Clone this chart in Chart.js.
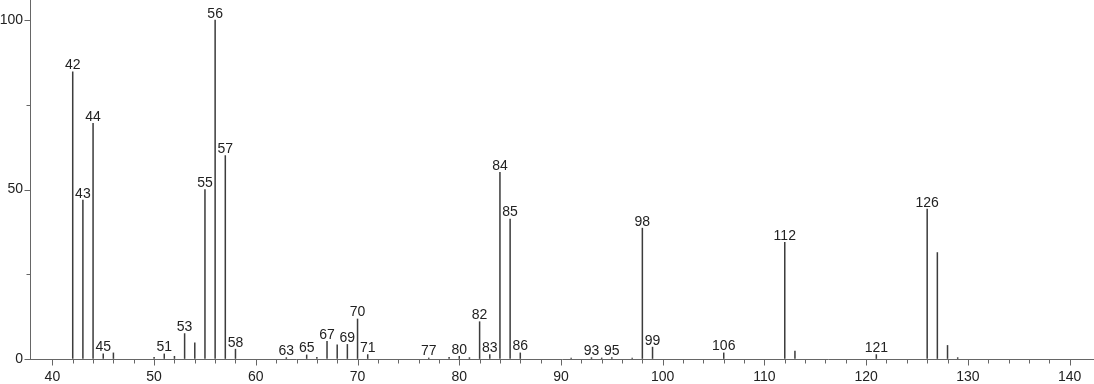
<!DOCTYPE html>
<html>
<head>
<meta charset="utf-8">
<script src="https://cdn.jsdelivr.net/npm/chart.js@4.4.1/dist/chart.umd.min.js"></script>
<style>
html,body{margin:0;padding:0;background:#fff;}
#wrap{width:1094px;height:384px;position:relative;}
</style>
</head>
<body>
<div id="wrap"><canvas id="c" width="1094" height="384"></canvas></div>
<script>
// m/z values
const mz = [42,43,44,45,46,50,51,52,53,54,55,56,57,58,63,65,66,67,68,69,70,71,77,79,80,81,82,83,84,85,86,91,93,94,95,97,98,99,106,112,113,121,126,127,128,129];
// relative intensities
const intensity = [84.7,46.9,69.5,1.5,1.8,0.5,1.5,0.8,7.5,4.8,50.0,100,60.0,2.9,0.4,1.2,0.5,5.2,4.2,4.3,11.8,1.3,0.3,0.5,0.8,0.4,11.0,1.3,55.1,41.3,1.8,0.3,0.4,0.3,0.4,0.3,38.6,3.5,1.8,34.4,2.3,1.3,44.2,31.4,4.0,0.4];
// peaks that carry a label
const labeledPeaks = [42,43,44,45,51,53,55,56,57,58,63,65,67,69,70,71,77,80,82,83,84,85,86,93,95,98,99,106,112,121,126];
// axis ticks
const xTickValues = [40,42,44,46,48,50,52,54,56,58,60,62,64,66,68,70,72,74,76,78,80,82,84,86,88,90,92,94,96,98,100,102,104,106,108,110,112,114,116,118,120,122,124,126,128,130,132,134,136,138,140];
const xTickLabels = [40,50,60,70,80,90,100,110,120,130,140];
const yTickValues = [0,25,50,75,100];
const yTickLabels = [0,50,100];

const X_MIN = 37.8, X_MAX = 142.4, Y_MIN = 0, Y_MAX = 105.9;
const AXIS_COLOR = '#666';
const FONT = '"Liberation Sans", Arial, sans-serif';

const points = mz.map((m, i) => ({x: m, y: intensity[i]}));

const tickPlugin = {
  id: 'ticksAndLabels',
  afterDatasetsDraw(chart) {
    const ctx = chart.ctx;
    const xs = chart.scales.x, ys = chart.scales.y;
    const area = chart.chartArea;
    ctx.save();
    // peak labels
    ctx.fillStyle = '#222';
    ctx.font = '14px ' + FONT;
    ctx.textAlign = 'center';
    ctx.textBaseline = 'alphabetic';
    labeledPeaks.forEach(m => {
      const i = mz.indexOf(m);
      if (i < 0) return;
      const px = xs.getPixelForValue(m);
      const py = ys.getPixelForValue(intensity[i]);
      ctx.fillText(String(m), px, py - 2.5);
    });
    // tick marks
    ctx.strokeStyle = AXIS_COLOR;
    ctx.lineWidth = 1;
    ctx.beginPath();
    const yb = Math.round(area.bottom) + 0.5;
    xTickValues.forEach(v => {
      const px = Math.round(xs.getPixelForValue(v)) + 0.5;
      const len = (v % 10 === 0) ? 6 : 4;
      ctx.moveTo(px, yb);
      ctx.lineTo(px, yb + len);
    });
    const xl = Math.round(area.left) + 0.5;
    yTickValues.forEach(v => {
      const py = Math.round(ys.getPixelForValue(v)) + 0.5;
      const len = (v % 50 === 0) ? 6 : 4;
      ctx.moveTo(xl, py);
      ctx.lineTo(xl - len, py);
    });
    ctx.stroke();
    ctx.restore();
  }
};

function noPad(scale) {
  scale.paddingTop = 0; scale.paddingBottom = 0;
  scale.paddingLeft = 0; scale.paddingRight = 0;
}

new Chart(document.getElementById('c'), {
  type: 'bar',
  data: {
    datasets: [{
      data: points,
      backgroundColor: '#3c3c3c',
      borderWidth: 0,
      barThickness: 0.85,
      grouped: false
    }]
  },
  options: {
    responsive: false,
    animation: false,
    events: [],
    layout: {padding: 0},
    plugins: {legend: {display: false}, tooltip: {enabled: false}},
    scales: {
      x: {
        type: 'linear',
        min: X_MIN, max: X_MAX,
        offset: false,
        afterBuildTicks(scale) { scale.ticks = xTickLabels.map(v => ({value: v})); },
        afterFit(scale) { scale.height = 25; noPad(scale); },
        grid: {display: true, drawOnChartArea: false, drawTicks: true, tickLength: 6, color: 'transparent'},
        border: {display: true, color: AXIS_COLOR, width: 1},
        ticks: {color: '#222', font: {family: FONT, size: 14}, padding: 4, maxRotation: 0, autoSkip: false}
      },
      y: {
        type: 'linear',
        min: Y_MIN, max: Y_MAX,
        afterBuildTicks(scale) { scale.ticks = yTickLabels.map(v => ({value: v})); },
        afterFit(scale) { scale.width = 30; noPad(scale); },
        grid: {display: true, drawOnChartArea: false, drawTicks: true, tickLength: 6, color: 'transparent'},
        border: {display: true, color: AXIS_COLOR, width: 1},
        ticks: {color: '#222', font: {family: FONT, size: 14}, padding: 1, autoSkip: false}
      }
    }
  },
  plugins: [tickPlugin]
});
</script>
</body>
</html>
